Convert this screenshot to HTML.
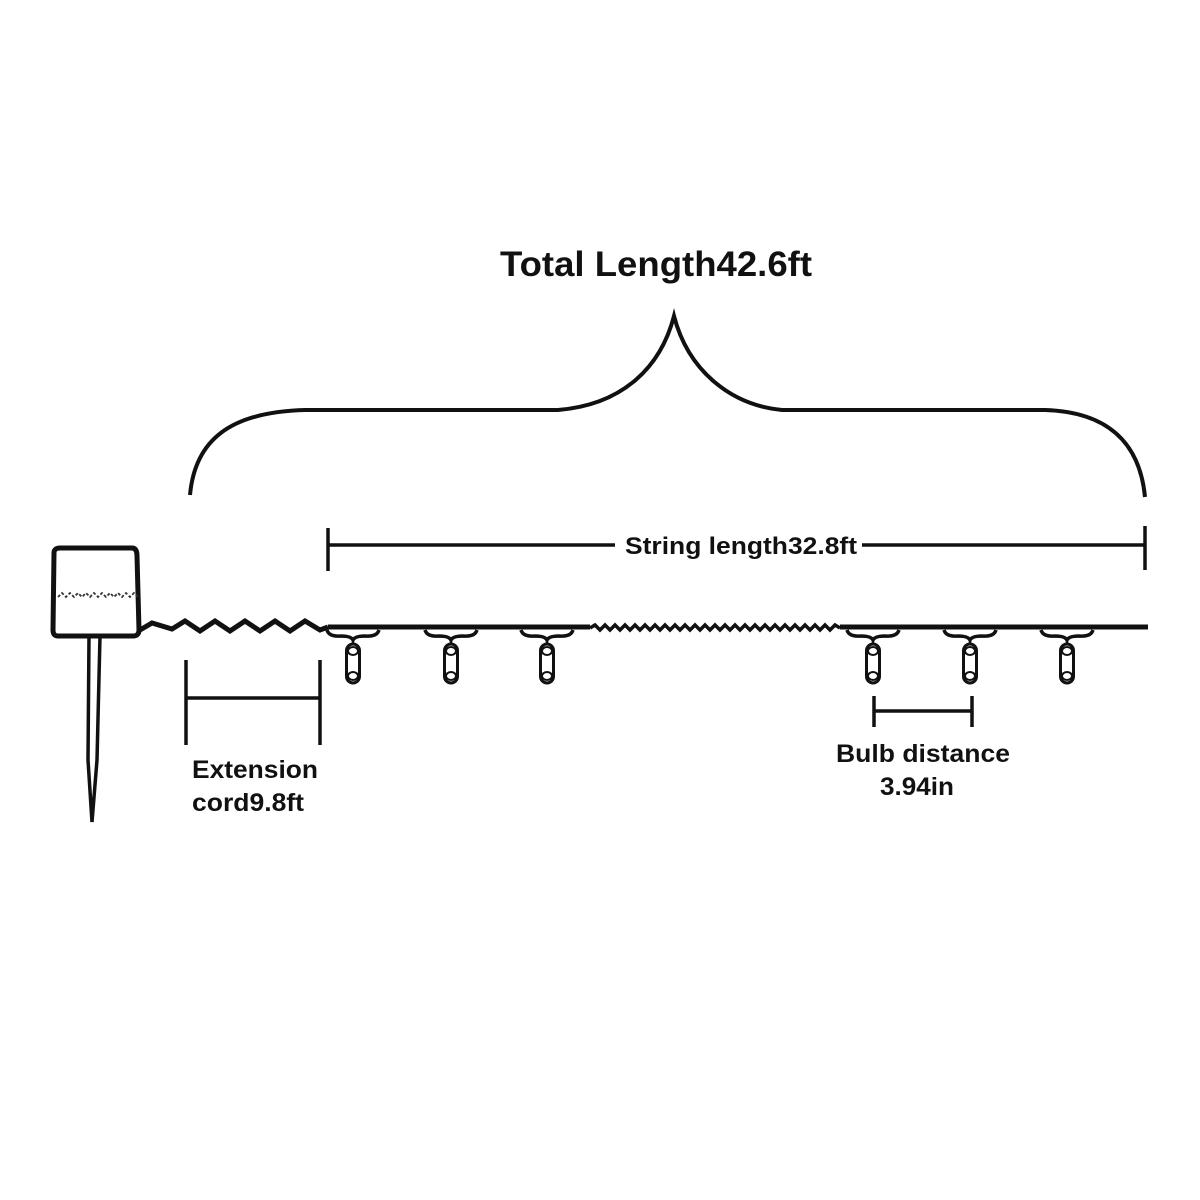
<!DOCTYPE html>
<html><head><meta charset="utf-8"><style>
html,body{margin:0;padding:0;background:#fff;}
svg{display:block;}
text{font-family:"Liberation Sans",Arial,sans-serif;font-weight:bold;fill:#111;}
</style></head><body>
<svg width="1200" height="1200" viewBox="0 0 1200 1200" xmlns="http://www.w3.org/2000/svg">
<rect width="1200" height="1200" fill="#fff"/>
<text x="500" y="276" font-size="35" textLength="312" lengthAdjust="spacingAndGlyphs">Total Length42.6ft</text>
<!-- brace -->
<path d="M190 495 C195 440 230 412 305 410 L558 410 C620 405 660 370 674 316 C688 370 730 405 782 410 L1045 410 C1110 412 1140 445 1145 497" fill="none" stroke="#111" stroke-width="4"/>
<!-- string length -->
<g stroke="#111" stroke-width="3.5" fill="none">
<line x1="328" y1="528" x2="328" y2="571"/>
<line x1="1145" y1="526" x2="1145" y2="570"/>
<line x1="328" y1="545" x2="615" y2="545"/>
<line x1="862" y1="545" x2="1145" y2="545"/>
</g>
<text x="625" y="554" font-size="24" textLength="232" lengthAdjust="spacingAndGlyphs">String length32.8ft</text>
<!-- controller box -->
<path d="M54 553 Q54 548 60 548 L132 548 Q137 548 137 556 L139 630 Q139 636 133 636 L58 636 Q53 636 53 630 Z" fill="#fff" stroke="#111" stroke-width="5"/>
<path d="M58 597 l4 -4 l4 4 l4 -4 l4 4 l4 -4 l4 4 l4 -4 l4 4 l4 -4 l4 4 l4 -4 l4 4 l4 -4 l4 4 l4 -4 l4 4 l4 -4 l4 4 l4 -4 l4 4" fill="none" stroke="#333" stroke-width="1.8" stroke-dasharray="3 2"/>
<!-- stake -->
<path d="M89 636 L88 760 L92 822 L97 760 L100 636" fill="none" stroke="#111" stroke-width="3.5"/>
<!-- zigzag cord -->
<path d="M140 630 L152 623 L172 629 L185 621 L200 631 L215 621 L230 631 L245 621 L260 631 L275 621 L290 631 L305 621 L320 630 L328 627" fill="none" stroke="#111" stroke-width="5"/>
<!-- main string -->
<line x1="328" y1="627" x2="590" y2="627" stroke="#111" stroke-width="5"/>
<line x1="840" y1="627" x2="1148" y2="627" stroke="#111" stroke-width="5"/>
<path d="M590 628 l5 -3 l5 5 l5 -5 l5 5 l5 -5 l5 5 l5 -5 l5 5 l5 -5 l5 5 l5 -5 l5 5 l5 -5 l5 5 l5 -5 l5 5 l5 -5 l5 5 l5 -5 l5 5 l5 -5 l5 5 l5 -5 l5 5 l5 -5 l5 5 l5 -5 l5 5 l5 -5 l5 5 l5 -5 l5 5 l5 -5 l5 5 l5 -5 l5 5 l5 -5 l5 5 l5 -5 l5 5 l5 -5 l5 5 l5 -5 l5 5 l5 -5 l5 5 l5 -5 l5 5 l5 -5 l5 3" fill="none" stroke="#111" stroke-width="3.5"/>
<!-- bulbs -->
<defs>
<g id="b">
<path d="M-26 630 Q-24 637 -12 636 Q-2 636 0 640 Q2 636 12 636 Q24 637 26 630" fill="none" stroke="#111" stroke-width="3.5"/>
<line x1="0" y1="638" x2="0" y2="645" stroke="#111" stroke-width="2.5"/>
<rect x="-6.5" y="644" width="13" height="39" rx="6.5" fill="#fff" stroke="#111" stroke-width="3"/>
<ellipse cx="0" cy="651" rx="5" ry="4" fill="none" stroke="#111" stroke-width="2"/>
<ellipse cx="0" cy="676" rx="5" ry="4" fill="none" stroke="#111" stroke-width="2"/>
</g>
</defs>
<use href="#b" x="353"/><use href="#b" x="451"/><use href="#b" x="547"/>
<use href="#b" x="873"/><use href="#b" x="970"/><use href="#b" x="1067"/>
<!-- dimensions -->
<g stroke="#111" stroke-width="3.5">
<line x1="186" y1="660" x2="186" y2="745"/>
<line x1="320" y1="660" x2="320" y2="745"/>
<line x1="186" y1="698" x2="320" y2="698"/>
<line x1="874" y1="696" x2="874" y2="727"/>
<line x1="972" y1="696" x2="972" y2="727"/>
<line x1="874" y1="711" x2="972" y2="711"/>
</g>
<text x="192" y="778" font-size="25" textLength="126" lengthAdjust="spacingAndGlyphs">Extension</text>
<text x="192" y="811" font-size="25" textLength="112" lengthAdjust="spacingAndGlyphs">cord9.8ft</text>
<text x="836" y="762" font-size="25" textLength="174" lengthAdjust="spacingAndGlyphs">Bulb distance</text>
<text x="880" y="795" font-size="25" textLength="74" lengthAdjust="spacingAndGlyphs">3.94in</text>
</svg>
</body></html>
